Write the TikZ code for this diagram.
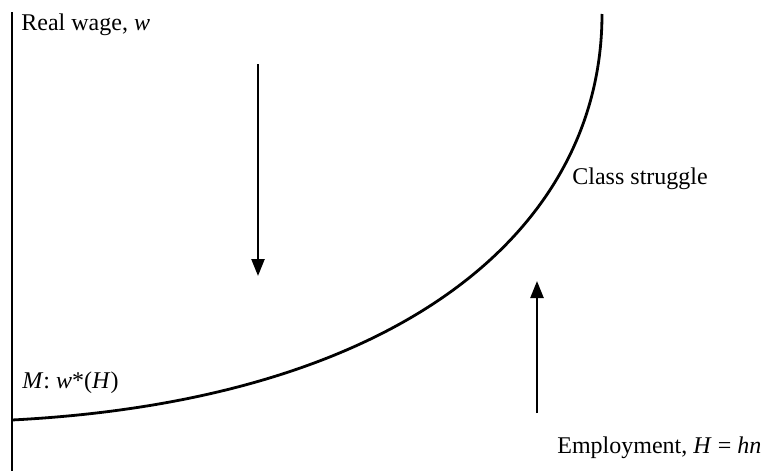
\documentclass[tikz,border=0pt]{standalone}
\usepackage{fontspec}
\setmainfont{Liberation Serif}
\usetikzlibrary{arrows.meta}
\tikzset{
  every node/.style={font=\fontsize{12}{14}\selectfont, inner sep=0pt},
  lbl/.style={anchor=base west},
  axis/.style={line width=0.9pt},
  curve/.style={line width=1.4pt},
  push/.style={-{Triangle[length=8.5pt,width=6.5pt]}, line width=1.2pt},
}
\begin{document}
\begin{tikzpicture}[x=0.5pt,y=-0.5pt]
\useasboundingbox (0,0) rectangle (771,471);
% axis and labels
\coordinate (top) at (12,12);
\coordinate (bot) at (12,471);
\draw[axis] (top) -- (bot);
\node[lbl] (wage) at (21,31) {Real wage, \textit{w}};
\node[lbl] (emp) at (557,453) {Employment, \textit{H} = \textit{hn}};
% M curve
\coordinate (m0) at (12,420);
\coordinate (m1) at (602,14);
\draw[curve] (m0) .. controls (400,400) and (602,230) .. (m1);
\node[lbl] (mlab) at (22,388) {\textit{M}: \textit{w}*(\textit{H})};
\node[lbl] (cs) at (572,184) {Class struggle};
% forces
\coordinate (d0) at (258,64);
\coordinate (d1) at (258,276);
\coordinate (u0) at (537,413);
\coordinate (u1) at (537,281);
\draw[push] (d0) -- (d1);
\draw[push] (u0) -- (u1);
\end{tikzpicture}
\end{document}
